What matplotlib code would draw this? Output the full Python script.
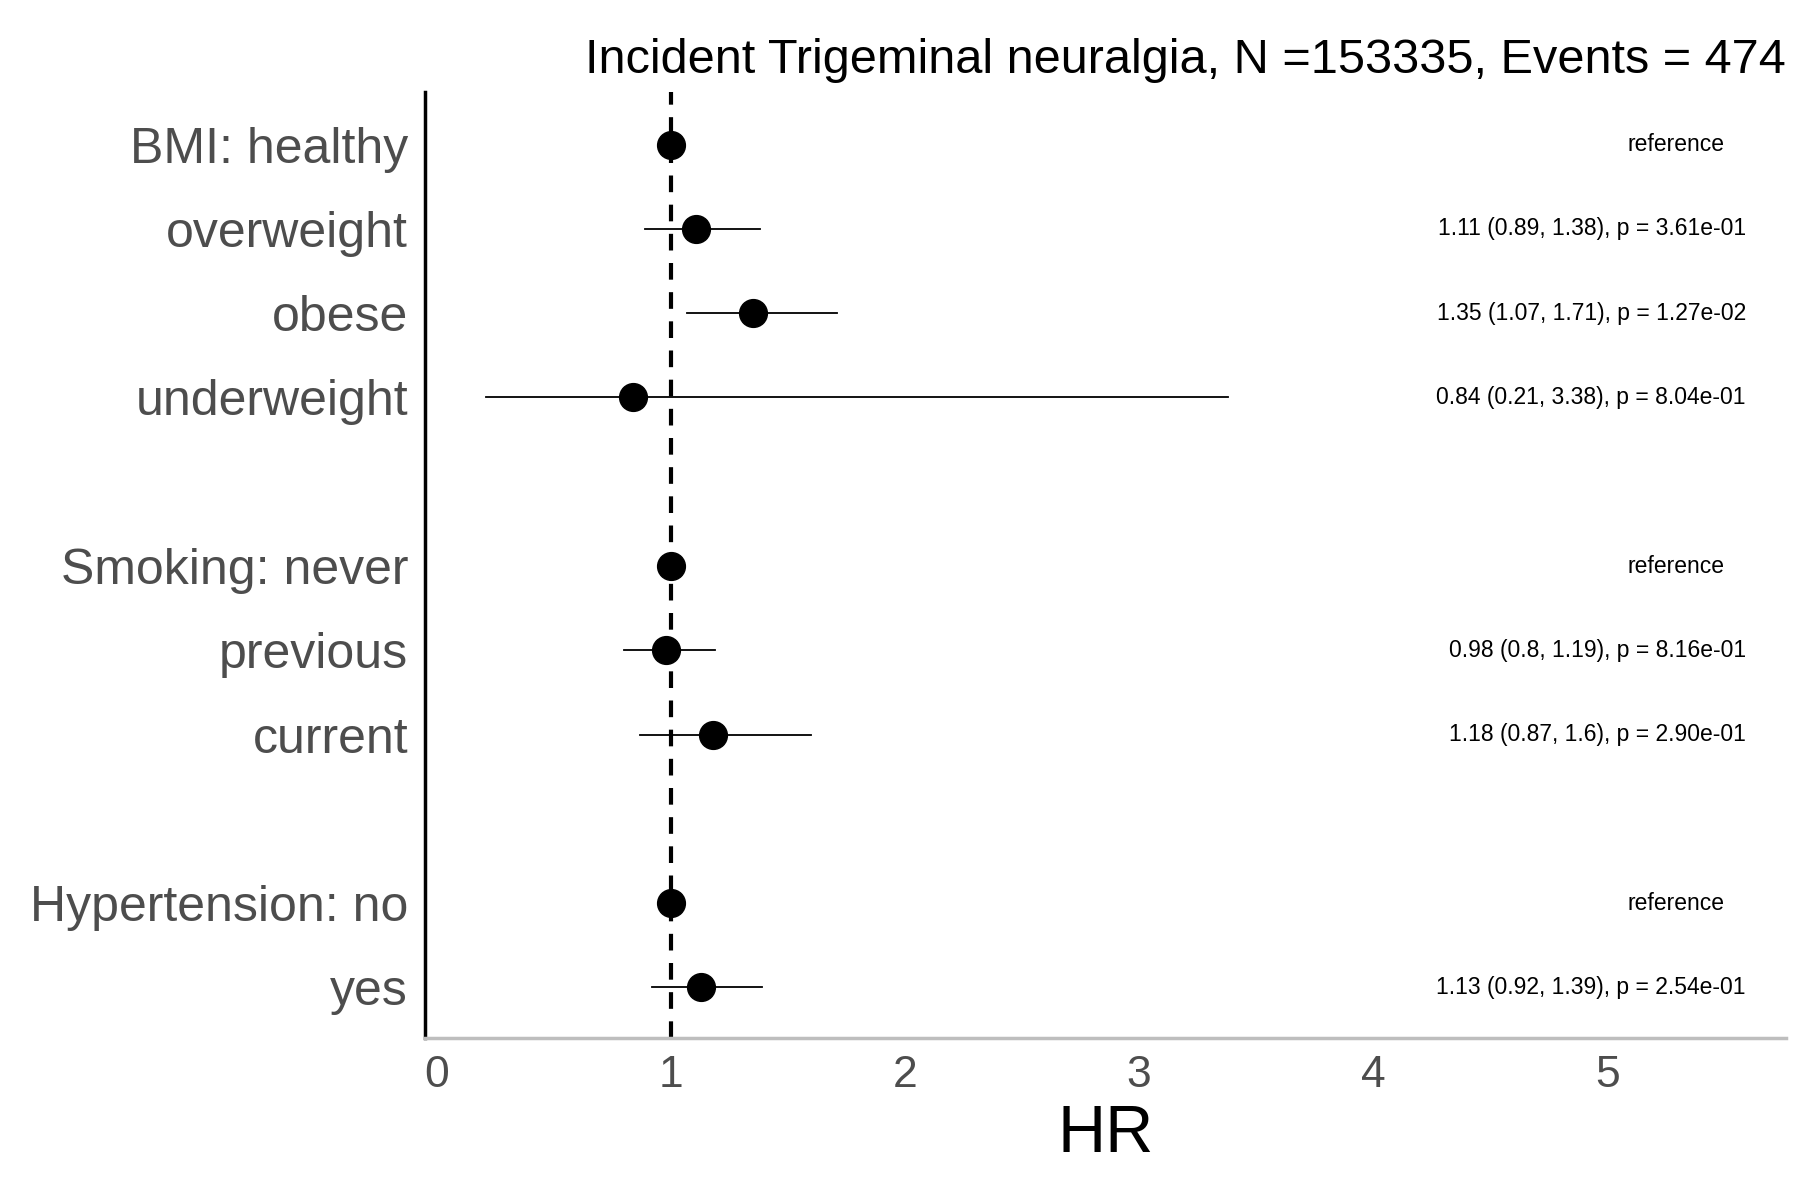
import matplotlib.pyplot as plt

labels = ["BMI: healthy", "overweight", "obese", "underweight",
          "Smoking: never", "previous", "current",
          "Hypertension: no", "yes"]
rows = [0, 1, 2, 3, 5, 6, 7, 9, 10]
hr = [1.0, 1.11, 1.35, 0.84, 1.0, 0.98, 1.18, 1.0, 1.13]
lo = [1.0, 0.89, 1.07, 0.21, 1.0, 0.80, 0.87, 1.0, 0.92]
hi = [1.0, 1.38, 1.71, 3.38, 1.0, 1.19, 1.60, 1.0, 1.39]
notes = ["reference", "1.11 (0.89, 1.38), p = 3.61e-01", "1.35 (1.07, 1.71), p = 1.27e-02",
         "0.84 (0.21, 3.38), p = 8.04e-01", "reference", "0.98 (0.8, 1.19), p = 8.16e-01",
         "1.18 (0.87, 1.6), p = 2.90e-01", "reference", "1.13 (0.92, 1.39), p = 2.54e-01"]

plt.rcParams["font.family"] = "Liberation Sans"
fig = plt.figure(figsize=(18, 12), dpi=100)
ax = fig.add_axes([0.236, 0.135, 0.756, 0.788])

for y, h, l, u, n in zip(rows, hr, lo, hi, notes):
    ax.plot([l, u], [y, y], color="black", lw=1.3, zorder=2)
    ax.plot(h, y, "o", color="black", ms=20, zorder=3)
    if n == "reference":
        ax.text(5.29, y, n, ha="center", va="center", fontsize=16.5)
    else:
        ax.text(5.59, y, n, ha="right", va="center", fontsize=16.5)

ax.axvline(1, color="black", ls=(0, (4, 3)), lw=3, zorder=1)
ax.set_xlim(-0.05, 5.76)
ax.set_ylim(10.6, -0.62)
ax.set_yticks(rows)
ax.set_yticklabels(labels, fontsize=36, color="#4d4d4d")
ax.set_xticks(range(6))
ax.set_xticklabels([str(i) for i in range(6)], fontsize=32, color="#4d4d4d")
ax.tick_params(length=0, pad=12)
ax.set_xlabel("HR", fontsize=48, labelpad=6)
ax.set_title("Incident Trigeminal neuralgia, N =153335, Events = 474",
             fontsize=35, loc="right", pad=14)
for s in ["top", "right"]:
    ax.spines[s].set_visible(False)
ax.spines["left"].set_linewidth(2.5)
ax.spines["bottom"].set_color("#bebebe")
ax.spines["bottom"].set_linewidth(2.5)

fig.savefig("out.png", dpi=100)
